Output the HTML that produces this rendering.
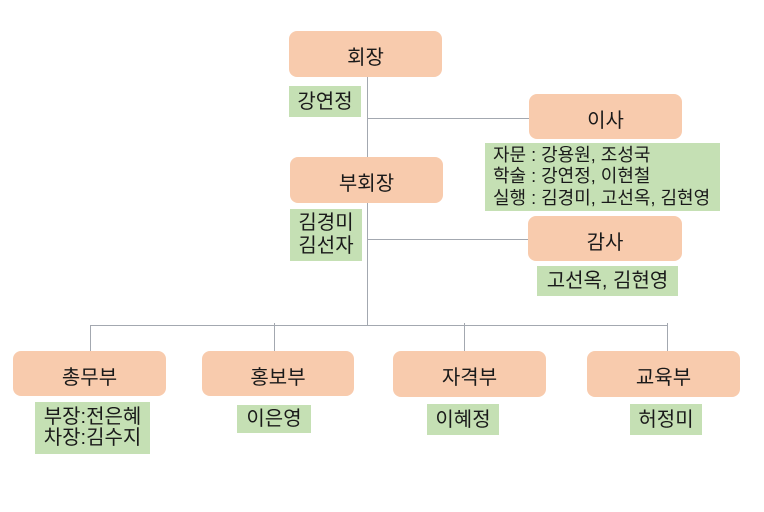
<!DOCTYPE html>
<html>
<head>
<meta charset="utf-8">
<style>
  html, body { margin: 0; padding: 0; }
  body { width: 764px; height: 512px; background: #ffffff; position: relative; overflow: hidden;
    font-family: "Liberation Sans", "Noto Sans CJK KR", sans-serif; color: #1a1a1a; }
  .ln { position: absolute; background: #a3a8b0; }
  .ob { position: absolute; background: #f8cbad; border-radius: 8px; display: flex; align-items: center; justify-content: center; font-size: 20px; padding-top: 3px; box-sizing: border-box; }
  .gb { position: absolute; background: #c5e0b4; display: flex; align-items: center; justify-content: center; font-size: 20px; line-height: 22px; text-align: center; flex-direction: column; }
</style>
</head>
<body>
  <!-- connector lines -->
  <div class="ln" style="left:367px; top:76px; width:1px; height:250px;"></div>
  <div class="ln" style="left:367px; top:118px; width:162px; height:1px;"></div>
  <div class="ln" style="left:367px; top:239px; width:161px; height:1px;"></div>
  <div class="ln" style="left:90px; top:325px; width:578px; height:1px;"></div>
  <div class="ln" style="left:90px; top:325px; width:1px; height:26px;"></div>
  <div class="ln" style="left:274px; top:323px; width:1px; height:28px;"></div>
  <div class="ln" style="left:464px; top:323px; width:1px; height:28px;"></div>
  <div class="ln" style="left:667px; top:323px; width:1px; height:28px;"></div>

  <!-- top -->
  <div class="ob" style="left:289px; top:31px; width:153px; height:46px;">회장</div>
  <div class="gb" style="left:289px; top:86px; width:72px; height:31px;">강연정</div>

  <div class="ob" style="left:529px; top:94px; width:153px; height:45px;">이사</div>
  <div class="gb" style="left:485px; top:143px; width:235px; height:68px; font-size:18px; line-height:21.5px; align-items:flex-start; padding-left:8px; box-sizing:border-box; white-space:nowrap;">
    <div>자문 : 강용원, 조성국</div>
    <div>학술 : 강연정, 이현철</div>
    <div>실행 : 김경미, 고선옥, 김현영</div>
  </div>

  <div class="ob" style="left:290px; top:157px; width:153px; height:46px;">부회장</div>
  <div class="gb" style="left:290px; top:209px; width:72px; height:52px; line-height:23px;">
    <div>김경미</div><div>김선자</div>
  </div>

  <div class="ob" style="left:528px; top:216px; width:154px; height:45px;">감사</div>
  <div class="gb" style="left:537px; top:266px; width:141px; height:30px;">고선옥, 김현영</div>

  <!-- departments -->
  <div class="ob" style="left:13px; top:351px; width:153px; height:45px;">총무부</div>
  <div class="gb" style="left:35px; top:402px; width:115px; height:52px; line-height:21px; white-space:nowrap;">
    <div>부장:전은혜</div><div>차장:김수지</div>
  </div>

  <div class="ob" style="left:202px; top:351px; width:152px; height:45px;">홍보부</div>
  <div class="gb" style="left:237px; top:405px; width:74px; height:28px;">이은영</div>

  <div class="ob" style="left:393px; top:351px; width:153px; height:46px;">자격부</div>
  <div class="gb" style="left:427px; top:404px; width:72px; height:31px;">이혜정</div>

  <div class="ob" style="left:587px; top:351px; width:153px; height:46px;">교육부</div>
  <div class="gb" style="left:630px; top:404px; width:72px; height:31px;">허정미</div>
</body>
</html>
